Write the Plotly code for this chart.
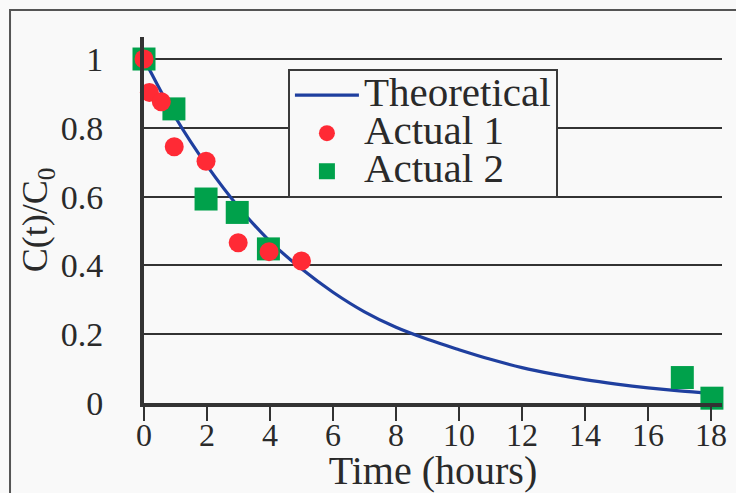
import plotly.graph_objects as go

# Data
theory_t = [0, 1, 2, 3, 4, 5, 6, 7, 8, 9, 10, 11, 12, 13, 14, 15, 16, 17, 18]
theory_c = [1.0, 0.83, 0.69, 0.57, 0.47, 0.39, 0.322, 0.265, 0.22, 0.185, 0.155,
            0.127, 0.103, 0.084, 0.068, 0.055, 0.044, 0.035, 0.028]

actual1_t = [0, 0.17, 0.55, 0.96, 1.97, 2.99, 3.97, 5.0]
actual1_c = [1.0, 0.903, 0.876, 0.745, 0.703, 0.466, 0.44, 0.413]

actual2_t = [0, 0.95, 1.97, 2.96, 3.95, 17.09, 18.03]
actual2_c = [1.0, 0.855, 0.593, 0.554, 0.448, 0.074, 0.014]

x_ticks = [0, 2, 4, 6, 8, 10, 12, 14, 16, 18]
y_ticks = [0, 0.2, 0.4, 0.6, 0.8, 1]
y_tick_labels = ["0", "0.2", "0.4", "0.6", "0.8", "1"]

FONT = "Liberation Serif"
TXT = "#2a2a2a"
BG = "#f9f9f9"
AX = "#333333"

def big(s):
    return '<span style="font-size:41px">' + s + '</span>'

fig = go.Figure()
fig.add_trace(go.Scatter(
    x=theory_t, y=theory_c, mode="lines", name=big("Theoretical"),
    line=dict(color="#1f3f9f", width=3.2, shape="spline", smoothing=1.0),
    legendrank=1, cliponaxis=False))
fig.add_trace(go.Scatter(
    x=actual2_t, y=actual2_c, mode="markers", name=big("Actual 2"),
    marker=dict(symbol="square", size=23, color="#00a14b"),
    legendrank=3, cliponaxis=False))
fig.add_trace(go.Scatter(
    x=actual1_t, y=actual1_c, mode="markers", name=big("Actual 1"),
    marker=dict(symbol="circle", size=19, color="#ff2a35"),
    legendrank=2, cliponaxis=False))

fig.update_layout(
    width=736, height=493,
    margin=dict(l=144, r=14, t=37, b=90, autoexpand=False),
    paper_bgcolor=BG, plot_bgcolor=BG,
    font=dict(family=FONT, color=TXT, size=32),
    showlegend=True,
    legend=dict(
        x=0.249, y=0.9126, xanchor="left", yanchor="top",
        bgcolor=BG, bordercolor="#3a3a3a", borderwidth=2,
        font=dict(family=FONT, size=27, color=TXT),
        traceorder="normal", itemsizing="trace", itemwidth=64,
    ),
    xaxis=dict(
        range=[0, 18.35], tickmode="array", tickvals=x_ticks,
        ticks="outside", ticklen=14, tickwidth=2, tickcolor=AX,
        showline=True, linewidth=4, linecolor=AX, showgrid=False,
        zeroline=False, tickfont=dict(family=FONT, size=32), automargin=False,
        ticklabelstandoff=-13,
        title=dict(text="Time (hours)", font=dict(family=FONT, size=40), standoff=0),
    ),
    yaxis=dict(
        range=[0, 1.064], tickmode="array", tickvals=y_ticks, ticktext=y_tick_labels,
        ticks="", showline=True, linewidth=4, linecolor=AX,
        showgrid=True, gridcolor=AX, gridwidth=2, zeroline=False,
        tickfont=dict(family=FONT, size=34), ticklabelstandoff=30, automargin=False,
        title=dict(text="C(t)/C<sub>0</sub>", font=dict(family=FONT, size=36), standoff=3),
    ),
    shapes=[dict(type="rect", xref="paper", yref="paper",
                 x0=-0.2318, y0=-0.4, x1=1.2, y1=1.0738,
                 line=dict(color="#555555", width=2), fillcolor="rgba(0,0,0,0)",
                 layer="below")],
)

fig.write_html("out.html", config={"displayModeBar": False},
               post_script="document.body.style.margin='0';document.body.style.padding='0';document.body.style.background='#f9f9f9';")
